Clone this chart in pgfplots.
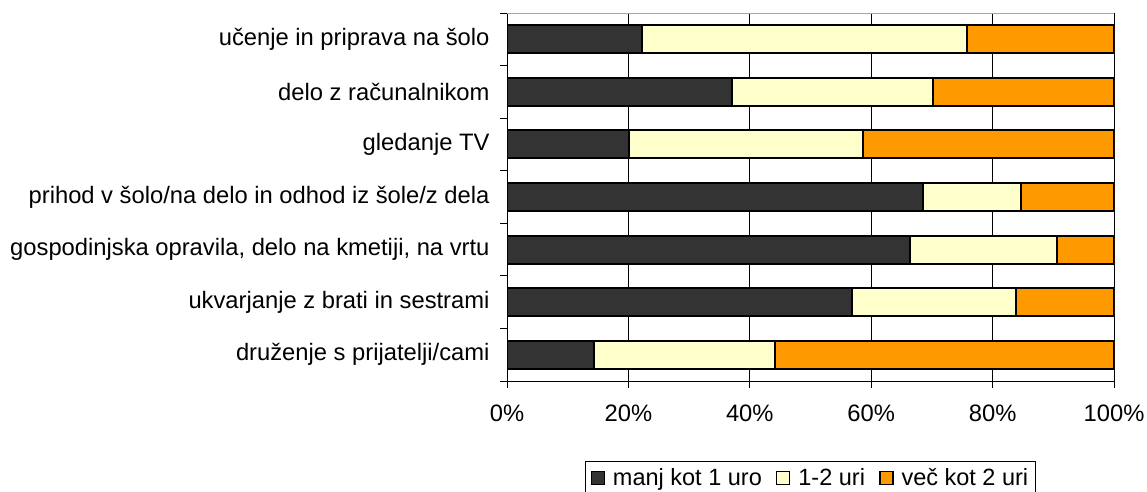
\documentclass[border=0pt]{standalone}
\usepackage{fontspec}
\setmainfont{Liberation Sans}
\usepackage{pgfplots}
\pgfplotsset{compat=1.18}
\definecolor{cdark}{HTML}{333333}
\definecolor{clight}{HTML}{FFFFCC}
\definecolor{corange}{HTML}{FF9900}
\begin{document}
\begin{tikzpicture}
\begin{axis}[
  at={(507pt,110pt)}, anchor=south west,
  scale only axis, width=607pt, height=368pt,
  xbar stacked, bar width=28pt,
  xmin=0, xmax=100, ymin=0.5, ymax=7.5,
  xtick={0,20,40,60,80,100},
  xticklabels={0\%,20\%,40\%,60\%,80\%,100\%},
  ytick={1,2,3,4,5,6,7},
  yticklabels={{druženje s prijatelji/cami},{ukvarjanje z brati in sestrami},{gospodinjska opravila, delo na kmetiji, na vrtu},{prihod v šolo/na delo in odhod iz šole/z dela},{gledanje TV},{delo z računalnikom},{učenje in priprava na šolo}},
  major y tick style={draw=none},
  minor ytick={0.5,1.5,2.5,3.5,4.5,5.5,6.5,7.5},
  axis x line*=bottom, axis y line*=left,
  axis line style={black, line width=1pt},
  xmajorgrids, grid style={black, line width=0.9pt},
  tick align=outside, major tick length=7pt, minor tick length=7pt,
  tick style={black, line width=1pt},
  font=\fontsize{23.75}{28}\selectfont,
  yticklabel style={xshift=-7pt},
  xticklabel style={yshift=-13pt},
  legend style={at={(0.1285,-0.2174)}, anchor=north west, legend columns=-1, draw=black, line width=1pt, inner sep=5pt, font=\fontsize{23.5}{28}\selectfont, /tikz/every odd column/.append style={column sep=6pt}, /tikz/every even column/.append style={column sep=12pt}},
  legend image code/.code={\draw[#1, line width=1.5pt] (0pt,-6.5pt) rectangle (13pt,6.5pt);},
  every axis plot/.append style={draw=black, line width=2pt},
]
\addplot[fill=cdark] coordinates {(14.4,1) (56.9,2) (66.4,3) (68.5,4) (20.1,5) (37.0,6) (22.2,7)};
\addplot[fill=clight] coordinates {(29.8,1) (26.9,2) (24.2,3) (16.2,4) (38.6,5) (33.1,6) (53.5,7)};
\addplot[fill=corange] coordinates {(55.8,1) (16.2,2) (9.4,3) (15.3,4) (41.3,5) (29.9,6) (24.3,7)};
\legend{manj kot 1 uro,1-2 uri,več kot 2 uri}
\draw[gray!70, line width=1pt] (rel axis cs:0,1) -- (rel axis cs:1,1);
\end{axis}
\pgfresetboundingbox
\useasboundingbox (0,0) rectangle (1147pt,491pt);
\end{tikzpicture}
\end{document}
